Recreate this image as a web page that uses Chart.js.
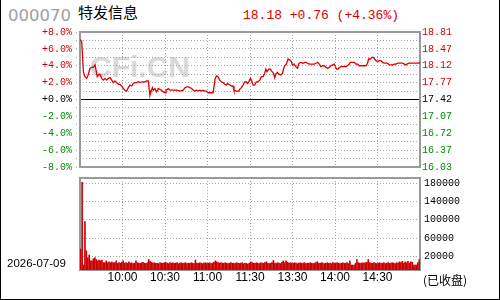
<!DOCTYPE html>
<html><head><meta charset="utf-8">
<script src="https://cdn.jsdelivr.net/npm/chart.js@4"></script>
<style>
html,body{margin:0;padding:0;background:#fff;}
#wrap{position:relative;width:500px;height:300px;overflow:hidden;background:#fff;}
.t{position:absolute;white-space:nowrap;margin:0;}
canvas{position:absolute;left:0;z-index:1;}
#frame{position:absolute;left:0;top:0;width:498px;height:299px;border-left:1px solid #000;border-right:1px solid #000;border-bottom:1px solid #000;z-index:3;pointer-events:none;}
</style></head>
<body>
<div id="wrap">
  <div class="t" style="left:8px;top:6px;font:16.5px/20px 'DejaVu Sans';color:#a0a0a0;">000070</div>
  <div class="t" style="left:78px;top:4px;font:15px/15px 'Noto Sans CJK SC';color:#000;">特发信息</div>
  <div class="t" id="quote" style="left:243px;top:8px;font:13px/15px 'Liberation Mono';color:#d40000;">18.18 +0.76 (+4.36%)</div>
  <div class="t" style="left:90px;top:52px;font:bold 30px/30px 'Liberation Sans';color:#d9d9d9;z-index:0;">CFi.CN</div>
  <canvas id="price" width="500" height="180" style="top:0;"></canvas>
  <canvas id="vol" width="500" height="136" style="top:164px;"></canvas>
  <div class="t" style="left:7px;top:256px;font:11.5px/14px 'Liberation Sans';color:#000;z-index:2;">2026-07-09</div>
  <div class="t" style="left:423px;top:274px;font:12px/12px 'Noto Sans CJK SC';color:#000;z-index:2;">(已收盘)</div>
  <div id="frame"></div>
</div>
<script>
// ---- data ----
const prevClose = 17.42;
const priceMinutes = [0,1.2,2.4,3.5,4.7,5.9,7.1,8.2,9.4,10.6,11.3,12.2,12.9,14.1,15.3,16.5,17.6,18.8,20,21.2,22.4,23.5,24.7,25.9,27.1,28.2,29.4,30.6,31.8,32.9,34.1,35.3,36.5,37.6,38.8,40,41.2,42.4,43.5,44.7,45.9,47.1,48.2,48.9,49.4,50.1,51.1,51.8,52.9,54.1,55.3,56.5,57.6,58.8,60,60.7,61.6,62.4,63.5,64.7,65.9,68.2,70.6,72.9,74.1,75.3,76.5,77.6,78.8,80,
81,82.2,83.3,84.5,85.7,86.9,88,89.2,90.4,91.6,92.7,93.9,94.6,95.3,96.3,97.4,98.6,99.8,101,102.2,103.3,104,105.2,106.9,108,108.7,110.4,112,112.7,113.9,115.1,116.3,117.4,118.2,119.1,120.3,121,122.2,123.3,124.5,125.7,126.9,128,129.2,130.4,131.1,132,133.2,134.4,135.6,136.7,137.4,138.2,139.3,140.5,141.7,142.9,143.8,144.5,145.7,146.9,148,149.2,149.9,151.1,152.3,153.5,154.6,155.8,157.4,158.6,
159.5,160.7,161.9,163,164.2,165.4,166.6,167.7,168.9,170.1,171.3,172.4,173.6,174.8,176,177.1,178.3,179.5,180.2,181.1,182.3,183,184.2,185.4,186.6,187.7,188.9,190.1,190.8,192.4,193.6,194.8,196,197.1,198.3,199.5,200.7,201.9,203,203.7,204.9,206.1,207,208,208.9,210.1,211.3,212.4,213.6,214.8,216,217.1,218.3,219.5,220.7,221.9,223,224.2,225.4,226.6,227.7,228.9,230.1,230.8,232,233.6,236,238.3,240];
const pricePct = [7.1,6.9,3.3,2.7,2.5,3.0,3.7,3.8,3.8,4.1,3.5,2.7,2.9,3.0,2.5,2.3,2.5,2.3,2.5,2.6,2.3,2.0,2.2,2.0,1.8,1.8,1.6,1.3,1.1,1.0,1.4,1.7,1.6,1.9,2.0,2.0,2.1,2.0,2.1,2.1,2.1,2.2,2.2,1.1,0.5,0.9,1.4,1.1,1.3,0.9,1.3,1.2,1.1,0.9,0.8,1.1,1.2,1.3,1.1,1.1,1.1,1.1,1.0,1.1,1.4,1.5,1.5,1.4,1.3,1.1,
1.0,1.1,1.0,1.1,1.0,1.1,1.0,1.0,0.8,0.8,0.8,0.8,1.5,2.4,2.8,2.7,2.3,2.1,2.0,1.8,1.7,1.9,1.8,1.6,1.6,1.1,1.0,1.0,1.2,1.4,1.7,2.1,2.1,1.9,2.1,2.5,2.3,1.7,1.7,2.1,2.1,2.3,2.7,2.7,3.1,3.6,3.3,3.6,3.6,3.3,3.1,2.6,3.0,3.2,3.0,2.9,3.1,3.7,4.0,4.2,4.8,4.7,4.5,4.1,4.2,3.9,3.7,4.3,4.4,4.3,4.4,
4.4,4.3,4.2,4.2,4.2,4.2,4.3,4.4,4.2,3.9,4.0,4.0,3.8,3.7,3.8,4.0,4.1,4.2,3.9,3.6,3.6,3.8,3.9,3.9,3.9,3.9,4.0,4.2,4.4,4.4,4.4,4.2,4.2,4.0,4.0,4.0,4.0,4.0,4.3,4.8,4.8,5.0,5.0,4.8,4.6,4.5,4.6,4.6,4.4,4.3,4.3,4.3,4.1,4.1,4.1,4.2,4.2,4.3,4.3,4.3,4.3,4.2,4.1,4.2,4.3,4.3,4.3,4.3,4.36];
const volumes = [36000,182000,1000,96000,32000,17000,23000,10000,10000,15000,
17000,13000,10000,12000,10000,12000,6000,6000,10000,6000,
8000,6000,8000,6000,6000,10000,4500,6000,5000,7000,
10000,5000,6000,4500,8000,5000,6000,4000,5000,10000,
6000,5000,4500,6000,7000,5000,4000,6000,13000,9000,
7000,5000,6000,4500,5000,4000,6000,5000,4500,6000,
7000,5000,4000,6000,5000,6000,4500,5000,6000,4000,
5000,6000,4500,5000,6000,4000,5000,4500,6000,5000,
4000,12000,5000,4500,6000,5000,4000,5000,6000,4500,
5000,6000,4000,5000,7000,10000,8000,6000,5000,6000,
5000,4500,6000,5000,4000,5000,6000,4500,5000,4000,
6000,5000,4500,5000,6000,4000,5000,4500,3000,5000,
8000,6000,5000,4500,6000,5000,4000,6000,5000,4500,
6000,8000,5000,4000,5000,6000,11000,5000,4500,6000,
5000,4000,7000,10000,6000,10000,7000,5000,6000,5000,
4500,6000,5000,4000,5000,6000,4500,5000,6000,4000,
5000,4500,6000,5000,4000,5000,6000,8000,5000,4500,
6000,5000,4000,5000,6000,4500,5000,4000,6000,5000,
4500,6000,5000,4000,5000,6000,4500,5000,6000,4000,
10000,1000,800,1000,5000,13000,6000,5000,4500,6000,
5000,6000,7000,13000,6000,5000,4500,6000,5000,4000,
5000,6000,4500,5000,6000,4000,5000,6000,4500,5000,
6000,5000,4000,6000,5000,8000,6000,9000,5000,8000,
6000,9000,5000,8000,7000,1000,800,1000,6000,13000];
const timeTickValues = [0,30,60,90,120,150,180,210,240];
const timeTickLabels = ['','10:00','10:30','11:00','11:30','13:30','14:00','14:30',''];
const pctGridValues = [-8,-7,-6,-5,-4,-3,-2,-1,0,1,2,3,4,5,6,7,8];
const pctLabelValues = [8,6,4,2,0,-2,-4,-6,-8];
const pctLabels = ['+8.0%','+6.0%','+4.0%','+2.0%','+0.0%','-2.0%','-4.0%','-6.0%','-8.0%'];
const priceLabels = ['18.81','18.47','18.12','17.77','17.42','17.07','16.72','16.37','16.03'];
const volTickValues = [20000,60000,100000,140000,180000];
const volTickLabels = ['20000','60000','100000','140000','180000'];

// ---- styles ----
const RED = '#d40000', GREEN = '#008a00', GRID = '#a6a6a6';
const colorFor = v => v > 0 ? RED : (v < 0 ? GREEN : '#000');
const monoFont = {family: 'Liberation Mono', size: 10};
const setTicks = vals => s => { s.ticks = vals.map(v => ({value: v})); };

const boxPlugin = {
  id: 'box',
  beforeDatasetsDraw(chart) {
    const {ctx, chartArea: a} = chart;
    ctx.save();
    ctx.strokeStyle = '#9a9a9a';
    ctx.lineWidth = 2;
    ctx.strokeRect(a.left, a.top, a.right - a.left, a.bottom - a.top);
    ctx.restore();
  }
};

new Chart(document.getElementById('price'), {
  type: 'line',
  data: {datasets: [{
    data: priceMinutes.map((m, i) => ({x: m, y: pricePct[i]})),
    borderColor: '#e00000', borderWidth: 1.3, pointRadius: 0, tension: 0
  }]},
  options: {
    responsive: false, animation: false, devicePixelRatio: 1,
    layout: {padding: {top: 32, bottom: 0, left: 0, right: 0}},
    plugins: {legend: {display: false}, tooltip: {enabled: false}},
    scales: {
      x: {type: 'linear', min: 0, max: 240, afterBuildTicks: setTicks(timeTickValues),
          ticks: {display: false}, grid: {color: GRID, drawTicks: false},
          border: {display: false, dash: [1, 2]}, afterFit: s => { s.height = 13; }},
      y: {position: 'left', min: -8, max: 8, afterBuildTicks: setTicks(pctGridValues),
          ticks: {autoSkip: false, padding: 4, font: monoFont,
                  color: c => colorFor(c.tick.value),
                  callback: v => { const k = pctLabelValues.indexOf(v); return k < 0 ? '' : pctLabels[k]; }},
          grid: {color: c => (c.tick && c.tick.value === 0) ? '#000' : GRID,
                 tickLength: 4, tickColor: GRID, tickBorderDash: [1, 2]},
          border: {display: false, dash: c => (c.tick && c.tick.value === 0) ? [] : [1, 2]},
          afterFit: s => { s.width = 80; }},
      y2: {position: 'right', min: -8, max: 8, afterBuildTicks: setTicks(pctLabelValues),
          ticks: {autoSkip: false, padding: 2, font: monoFont,
                  color: c => colorFor(c.tick.value),
                  callback: v => priceLabels[pctLabelValues.indexOf(v)]},
          grid: {drawOnChartArea: false, drawTicks: false},
          border: {display: false}, afterFit: s => { s.width = 80; }}
    }
  },
  plugins: [boxPlugin]
});

new Chart(document.getElementById('vol'), {
  type: 'bar',
  data: {datasets: [{
    data: volumes.map((v, i) => ({x: i + 0.5, y: v})),
    backgroundColor: '#cc0000', barThickness: 1, base: -10000
  }]},
  options: {
    responsive: false, animation: false, devicePixelRatio: 1,
    layout: {padding: {top: 14, left: 80, right: 0, bottom: 0}},
    plugins: {legend: {display: false}, tooltip: {enabled: false}},
    scales: {
      x: {type: 'linear', min: 0, max: 240, offset: false, afterBuildTicks: setTicks(timeTickValues),
          ticks: {autoSkip: false, maxRotation: 0, padding: 0, color: '#000',
                  font: {family: 'Liberation Sans', size: 12},
                  callback: v => timeTickLabels[timeTickValues.indexOf(v)]},
          grid: {color: GRID, drawTicks: false, offset: false},
          border: {display: false, dash: [1, 2]}, afterFit: s => { s.height = 30; }},
      y: {position: 'right', min: -10000, max: 191600, afterBuildTicks: setTicks(volTickValues),
          ticks: {autoSkip: false, padding: 4, color: '#000', font: monoFont,
                  callback: v => volTickLabels[volTickValues.indexOf(v)]},
          grid: {color: GRID, drawTicks: false},
          border: {display: false, dash: [1, 2]}, afterFit: s => { s.width = 80; }}
    }
  },
  plugins: [boxPlugin]
});
</script>
</body></html>
